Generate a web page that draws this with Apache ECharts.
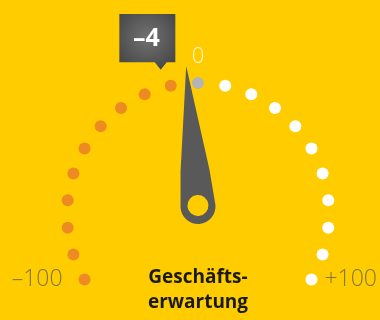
<!DOCTYPE html>
<html>
<head>
<meta charset="utf-8">
<script src="https://cdn.jsdelivr.net/npm/echarts@6/dist/echarts.min.js"></script>
<style>html,body{margin:0;padding:0;background:#FFCC00;}#c{width:380px;height:320px;}</style>
</head>
<body>
<div id="c"></div>
<script>
// ---- data ----
var indicatorName = 'Geschäfts-\nerwartung';
var indicatorValue = -4;
var scaleMin = -100;
var scaleMax = 100;
var negativeDots = [-100, -90, -80, -70, -60, -50, -40, -30, -20, -10];
var neutralDots = [0];
var positiveDots = [10, 20, 30, 40, 50, 60, 70, 80, 90, 100];
var tickValues = [-100, 0, 100];
var tickLabels = ['–100', '0', '+100'];

function fmt(v) { return v < 0 ? '–' + Math.abs(v) : (v > 0 ? '+' + v : String(v)); }

var FONT = 'Open Sans';
var chart = echarts.init(document.getElementById('c'), null, {renderer: 'canvas'});

function dotSeries(vals, color) {
  return {
    type: 'scatter', coordinateSystem: 'polar', symbol: 'circle', symbolSize: 12,
    itemStyle: {color: color, opacity: 1}, silent: true, animation: false,
    data: vals.map(function (v) { return [1, v]; })
  };
}

var tickPos = ['left', 'top', 'right'];
var tickDist = [22, 15, 13];
var tickColor = ['#64614e', '#ffffff', '#64614e'];
var tickSize = [23, 22, 23];

var needlePath = 'path://M17.5 0 L3 105 L0 141 A17.5 17.5 0 0 0 35 141 L32 105 Z ' +
  'M28 140 A10.5 10.5 0 0 1 7 140 A10.5 10.5 0 0 1 28 140 Z';
var calloutPath = 'path://M0 0 H56 V48.3 H47.4 L41.4 55.7 L35.4 48.3 H0 Z';

var option = {
  backgroundColor: '#FFCC00',
  animation: false,
  polar: {center: [198, 214], radius: 131},
  angleAxis: {type: 'value', min: scaleMin, max: scaleMax + 100, startAngle: 210, clockwise: true, show: false},
  radiusAxis: {type: 'value', min: 0, max: 1, show: false},
  series: [
    dotSeries(negativeDots, '#EE8A22'),
    dotSeries(neutralDots, '#B4B4B4'),
    dotSeries(positiveDots, '#FFFFFF'),
    {
      type: 'scatter', coordinateSystem: 'polar', symbolSize: 0, silent: true, animation: false,
      data: tickValues.map(function (v, i) {
        return {
          value: [1, v],
          label: {
            show: true, formatter: tickLabels[i], position: tickPos[i], distance: tickDist[i],
            fontFamily: FONT, fontSize: tickSize[i], fontWeight: 300, color: tickColor[i]
          }
        };
      })
    },
    {
      type: 'gauge', center: [198, 206.5], radius: 131,
      startAngle: 210, endAngle: -30, min: scaleMin, max: scaleMax,
      axisLine: {show: false}, splitLine: {show: false}, axisTick: {show: false}, axisLabel: {show: false},
      progress: {show: false}, anchor: {show: false},
      pointer: {show: true, icon: needlePath, length: 158.5, width: 35, offsetCenter: [0, 17.5], keepAspect: false,
        itemStyle: {color: '#595959'}},
      title: {show: true, offsetCenter: [0, 84], fontFamily: FONT, fontSize: 19, fontWeight: 'bold',
        color: '#1a1a1a', lineHeight: 25},
      detail: {show: false},
      data: [{value: indicatorValue, name: indicatorName}]
    },
    {
      type: 'scatter', coordinateSystem: 'polar', silent: true, animation: false,
      symbol: calloutPath, symbolKeepAspect: false, symbolSize: [56, 55.7], symbolOffset: [-39.7, -41.6],
      itemStyle: {
        opacity: 1,
        color: {type: 'radial', x: 0.5, y: 0.42, r: 0.6, colorStops: [
          {offset: 0, color: '#727272'}, {offset: 1, color: '#4a4a4a'}]}
      },
      label: {show: true, position: 'inside', offset: [-1, -3], formatter: function (p) { return fmt(p.value[1]); },
        fontFamily: FONT, fontSize: 25, fontWeight: 'bold', color: '#ffffff'},
      data: [[1, indicatorValue]]
    }
  ]
};
chart.setOption(option);
</script>
</body>
</html>
